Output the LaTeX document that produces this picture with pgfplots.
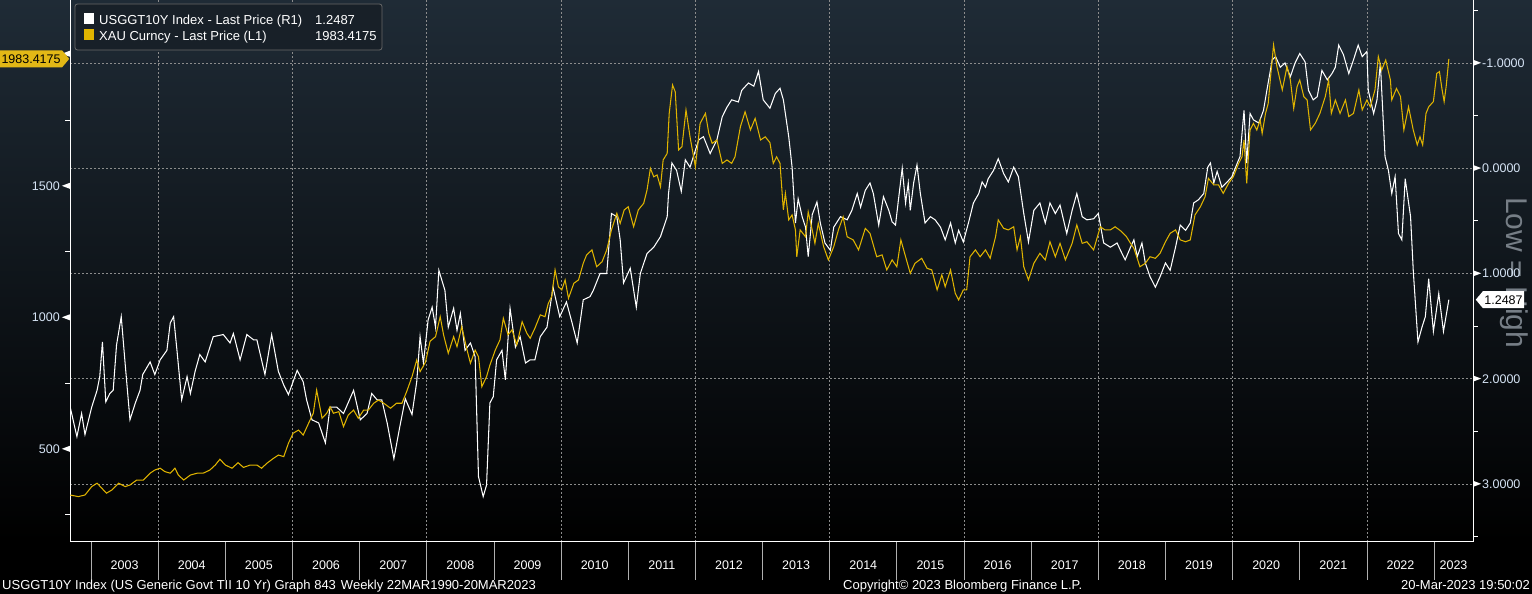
\documentclass[border=0pt]{standalone}
\usepackage{pgfplots}
\pgfplotsset{compat=1.18}
\usepackage{pgfplotstable}
\usepackage{fontspec}
\setmainfont{Liberation Sans}
\setsansfont{Liberation Sans}
\usetikzlibrary{shapes.symbols}
\definecolor{bgtop}{RGB}{31,43,54}
\definecolor{goldc}{RGB}{224,180,0}
\definecolor{goldlab}{RGB}{226,184,22}
\definecolor{gridc}{RGB}{140,140,140}
\definecolor{sepc}{RGB}{175,175,175}
\definecolor{tickc}{RGB}{214,228,245}
\definecolor{legbg}{RGB}{24,32,40}
\definecolor{legbd}{RGB}{105,105,105}
\definecolor{lowc}{RGB}{118,126,134}

\pgfplotstableread{
x y
2002.69 325
2002.81 319
2002.91 325
2003.01 357
2003.09 370
2003.16 351
2003.23 332
2003.31 344
2003.41 370
2003.51 357
2003.58 363
2003.68 382
2003.78 382
2003.88 408
2003.95 420
2004.03 427
2004.10 414
2004.18 408
2004.25 427
2004.30 401
2004.38 382
2004.48 401
2004.58 408
2004.67 408
2004.77 420
2004.85 439
2004.92 461
2005.00 439
2005.10 427
2005.19 448
2005.27 430
2005.37 439
2005.47 439
2005.54 427
2005.62 446
2005.72 465
2005.79 477
2005.87 471
2005.94 522
2006.01 560
2006.09 572
2006.16 553
2006.24 598
2006.31 636
2006.36 724
2006.44 617
2006.51 636
2006.56 661
2006.61 636
2006.69 642
2006.76 585
2006.83 629
2006.91 648
2006.98 617
2007.06 648
2007.13 648
2007.21 674
2007.28 686
2007.36 674
2007.46 655
2007.55 674
2007.63 674
2007.70 718
2007.78 775
2007.85 838
2007.90 794
2007.98 830
2008.05 910
2008.13 927
2008.20 1003
2008.25 934
2008.32 864
2008.40 927
2008.45 889
2008.52 965
2008.60 876
2008.65 826
2008.72 876
2008.77 851
2008.82 737
2008.89 775
2008.94 819
2009.02 876
2009.09 915
2009.14 997
2009.21 934
2009.27 953
2009.34 896
2009.42 984
2009.49 940
2009.54 921
2009.61 959
2009.69 1010
2009.76 1003
2009.81 1054
2009.86 1079
2009.91 1181
2009.96 1117
2010.01 1105
2010.06 1143
2010.11 1073
2010.19 1130
2010.26 1143
2010.33 1206
2010.38 1238
2010.46 1257
2010.53 1193
2010.61 1212
2010.68 1257
2010.75 1333
2010.83 1396
2010.88 1358
2010.94 1409
2011.00 1421
2011.08 1345
2011.15 1409
2011.23 1434
2011.28 1485
2011.33 1567
2011.38 1535
2011.43 1542
2011.48 1497
2011.52 1599
2011.58 1624
2011.61 1776
2011.66 1884
2011.70 1858
2011.75 1637
2011.80 1649
2011.86 1789
2011.92 1687
2012.00 1573
2012.07 1738
2012.15 1776
2012.20 1700
2012.25 1662
2012.32 1675
2012.40 1586
2012.47 1599
2012.54 1586
2012.59 1611
2012.67 1725
2012.74 1782
2012.82 1713
2012.89 1757
2012.97 1675
2013.04 1687
2013.11 1665
2013.16 1586
2013.21 1611
2013.26 1586
2013.31 1409
2013.34 1472
2013.39 1371
2013.44 1390
2013.49 1333
2013.51 1231
2013.56 1333
2013.64 1307
2013.68 1402
2013.74 1333
2013.78 1282
2013.83 1358
2013.91 1269
2013.98 1219
2014.06 1269
2014.13 1333
2014.20 1383
2014.26 1307
2014.35 1295
2014.43 1257
2014.53 1339
2014.60 1320
2014.70 1231
2014.78 1238
2014.85 1181
2014.93 1219
2015.00 1193
2015.06 1295
2015.13 1231
2015.20 1168
2015.27 1206
2015.37 1225
2015.45 1187
2015.52 1181
2015.60 1105
2015.67 1162
2015.72 1117
2015.80 1181
2015.87 1092
2015.92 1067
2015.99 1105
2016.04 1105
2016.09 1231
2016.17 1257
2016.24 1231
2016.32 1257
2016.39 1225
2016.47 1307
2016.51 1371
2016.59 1339
2016.66 1333
2016.74 1345
2016.79 1257
2016.84 1307
2016.89 1193
2016.96 1143
2017.04 1206
2017.13 1244
2017.21 1219
2017.28 1288
2017.36 1231
2017.43 1282
2017.51 1219
2017.61 1282
2017.68 1352
2017.76 1282
2017.83 1288
2017.93 1257
2018.03 1345
2018.10 1333
2018.18 1333
2018.25 1345
2018.33 1330
2018.42 1307
2018.48 1282
2018.53 1263
2018.62 1193
2018.70 1206
2018.77 1231
2018.85 1225
2018.92 1244
2019.00 1288
2019.07 1320
2019.15 1333
2019.22 1295
2019.30 1288
2019.37 1295
2019.44 1390
2019.52 1421
2019.59 1459
2019.64 1529
2019.72 1504
2019.79 1504
2019.86 1472
2019.94 1510
2020.01 1535
2020.09 1586
2020.14 1611
2020.17 1675
2020.21 1510
2020.26 1713
2020.31 1738
2020.36 1713
2020.41 1751
2020.44 1700
2020.49 1776
2020.53 1814
2020.57 1928
2020.61 2036
2020.66 1954
2020.74 1865
2020.81 1954
2020.86 1903
2020.91 1795
2020.96 1878
2021.00 1903
2021.06 1840
2021.11 1827
2021.16 1713
2021.23 1738
2021.30 1776
2021.38 1840
2021.43 1903
2021.47 1776
2021.53 1827
2021.60 1776
2021.68 1827
2021.73 1764
2021.80 1776
2021.88 1865
2021.93 1789
2022.00 1827
2022.05 1801
2022.12 1865
2022.17 1992
2022.22 1941
2022.28 1979
2022.35 1903
2022.37 1827
2022.44 1871
2022.50 1840
2022.55 1713
2022.62 1801
2022.69 1713
2022.75 1656
2022.79 1687
2022.83 1656
2022.88 1776
2022.92 1801
2022.99 1821
2023.04 1928
2023.08 1935
2023.12 1865
2023.15 1821
2023.18 1878
2023.22 1983.4175
}\golddata

\pgfplotstableread{
x y
2002.69 2.27
2002.79 2.55
2002.86 2.33
2002.91 2.53
2003.01 2.27
2003.09 2.11
2003.13 1.98
2003.17 1.65
2003.22 2.22
2003.28 2.14
2003.33 2.11
2003.38 1.68
2003.45 1.41
2003.51 1.87
2003.58 2.39
2003.66 2.23
2003.73 2.11
2003.77 1.96
2003.88 1.84
2003.95 1.96
2004.03 1.82
2004.13 1.73
2004.18 1.47
2004.23 1.41
2004.28 1.73
2004.35 2.20
2004.43 1.98
2004.48 2.14
2004.55 1.93
2004.62 1.77
2004.70 1.84
2004.77 1.70
2004.82 1.60
2004.97 1.58
2005.07 1.66
2005.12 1.57
2005.22 1.82
2005.32 1.58
2005.42 1.63
2005.47 1.63
2005.59 1.96
2005.69 1.58
2005.79 1.93
2005.87 2.06
2005.94 2.15
2006.07 1.92
2006.16 2.03
2006.21 2.20
2006.29 2.39
2006.39 2.42
2006.49 2.61
2006.56 2.27
2006.66 2.27
2006.76 2.33
2006.91 2.11
2007.01 2.39
2007.11 2.33
2007.18 2.14
2007.26 2.20
2007.33 2.20
2007.41 2.42
2007.51 2.76
2007.60 2.45
2007.68 2.19
2007.78 2.34
2007.85 2.03
2007.90 1.60
2007.95 1.85
2008.02 1.44
2008.08 1.32
2008.13 1.51
2008.18 0.97
2008.27 1.16
2008.32 1.51
2008.40 1.33
2008.45 1.54
2008.50 1.38
2008.57 1.73
2008.65 1.66
2008.72 1.79
2008.77 2.93
2008.84 3.12
2008.89 3.01
2008.94 2.23
2008.99 2.17
2009.04 1.82
2009.12 1.73
2009.17 2.01
2009.24 1.33
2009.32 1.70
2009.39 1.60
2009.47 1.85
2009.54 1.82
2009.61 1.82
2009.69 1.60
2009.79 1.51
2009.88 1.13
2009.98 1.41
2010.08 1.27
2010.16 1.46
2010.24 1.66
2010.33 1.25
2010.43 1.22
2010.48 1.16
2010.58 1.00
2010.68 1.00
2010.75 0.43
2010.83 0.46
2010.88 0.68
2010.93 1.09
2011.03 0.95
2011.12 1.32
2011.18 1.00
2011.28 0.81
2011.38 0.75
2011.48 0.65
2011.58 0.46
2011.60 0.24
2011.65 -0.05
2011.72 0.02
2011.79 0.22
2011.85 -0.08
2011.92 -0.01
2012.05 -0.27
2012.12 -0.30
2012.22 -0.14
2012.32 -0.27
2012.40 -0.49
2012.47 -0.58
2012.54 -0.65
2012.64 -0.63
2012.69 -0.74
2012.79 -0.81
2012.87 -0.78
2012.94 -0.92
2013.01 -0.65
2013.11 -0.57
2013.19 -0.71
2013.26 -0.76
2013.31 -0.65
2013.39 -0.30
2013.44 -0.01
2013.49 0.52
2013.53 0.29
2013.59 0.46
2013.64 0.56
2013.68 0.84
2013.74 0.44
2013.81 0.32
2013.86 0.52
2013.93 0.71
2014.01 0.78
2014.06 0.56
2014.16 0.46
2014.26 0.49
2014.33 0.40
2014.41 0.24
2014.46 0.37
2014.53 0.21
2014.60 0.14
2014.65 0.24
2014.73 0.54
2014.80 0.27
2014.88 0.40
2014.93 0.51
2014.98 0.54
2015.02 0.32
2015.08 0.00
2015.13 0.33
2015.17 0.14
2015.20 0.40
2015.25 0.14
2015.30 -0.03
2015.35 0.24
2015.42 0.52
2015.50 0.46
2015.57 0.49
2015.65 0.56
2015.72 0.68
2015.80 0.52
2015.87 0.71
2015.92 0.59
2015.99 0.70
2016.07 0.51
2016.14 0.33
2016.22 0.24
2016.27 0.13
2016.32 0.18
2016.36 0.10
2016.44 0.02
2016.51 -0.09
2016.59 0.05
2016.66 0.13
2016.74 -0.01
2016.81 0.08
2016.89 0.43
2016.96 0.70
2017.04 0.40
2017.13 0.33
2017.21 0.52
2017.28 0.33
2017.36 0.43
2017.43 0.35
2017.53 0.62
2017.61 0.40
2017.68 0.24
2017.76 0.46
2017.83 0.49
2017.93 0.48
2018.00 0.43
2018.08 0.71
2018.18 0.75
2018.28 0.71
2018.33 0.78
2018.40 0.87
2018.48 0.75
2018.53 0.68
2018.58 0.84
2018.65 0.71
2018.70 0.90
2018.77 1.03
2018.85 1.13
2018.92 1.03
2019.00 0.90
2019.07 0.97
2019.15 0.75
2019.22 0.54
2019.30 0.59
2019.37 0.52
2019.42 0.33
2019.49 0.30
2019.57 0.24
2019.63 -0.01
2019.67 -0.05
2019.72 0.14
2019.77 0.03
2019.84 0.18
2019.92 0.13
2019.99 0.08
2020.07 -0.05
2020.11 -0.11
2020.17 -0.55
2020.21 -0.05
2020.26 -0.52
2020.31 -0.46
2020.39 -0.43
2020.46 -0.55
2020.51 -0.74
2020.59 -1.03
2020.64 -1.06
2020.71 -0.96
2020.78 -1.00
2020.86 -0.87
2020.93 -1.00
2021.00 -1.09
2021.08 -1.01
2021.13 -0.74
2021.20 -0.65
2021.26 -0.68
2021.33 -0.93
2021.41 -0.84
2021.48 -0.90
2021.53 -0.96
2021.58 -1.17
2021.65 -1.08
2021.73 -0.90
2021.80 -1.03
2021.87 -1.17
2021.93 -1.06
2022.00 -1.11
2022.02 -0.74
2022.10 -0.52
2022.15 -0.65
2022.20 -1.00
2022.27 -0.11
2022.32 0.02
2022.37 0.24
2022.42 0.08
2022.47 0.62
2022.52 0.68
2022.57 0.10
2022.65 0.46
2022.69 0.97
2022.76 1.65
2022.82 1.51
2022.87 1.41
2022.92 1.05
2022.99 1.55
2023.07 1.19
2023.14 1.55
2023.22 1.2487
}\ryield

\newcommand{\ltri}{\tikz[baseline={(0pt,-4.5pt)}]\fill[white] (0pt,0pt)--(8pt,3pt)--(8pt,-3pt)--cycle;}
\newcommand{\rtri}{\tikz[baseline={(0pt,-4.5pt)}]\fill[white] (8pt,0pt)--(0pt,3pt)--(0pt,-3pt)--cycle;}

\pgfplotsset{
  geom/.style={at={(70pt,52pt)}, anchor=south west, scale only axis,
    width=1403pt, height=542pt, xmin=2002.687, xmax=2023.58},
  every tick label/.append style={font=\fontsize{12.5}{14}\selectfont},
}

\begin{document}
\begin{tikzpicture}
\fill[black] (0pt,0pt) rectangle (1532pt,594pt);
\shade[top color=bgtop, bottom color=black] (0pt,52pt) rectangle (1532pt,594pt);

\node[rotate=-90, anchor=base west, inner sep=0pt, text=lowc,
      font=\fontsize{30}{30}\selectfont] at (1506pt,397pt) {Low = High};

% x axis, separators, vertical grid
\begin{axis}[geom, ymin=0, ymax=1,
  hide y axis, axis x line*=bottom,
  axis line style={white, line width=1pt},
  xtick={2004,2006,2008,2010,2012,2014,2016,2018,2020,2022},
  minor xtick={2003,2005,2007,2009,2011,2013,2015,2017,2019,2021,2023},
  xticklabels={},
  xmajorgrids,
  major grid style={gridc, dash pattern=on 2pt off 2pt, line width=0.8pt},
  tick align=outside, major tick length=38pt, minor tick length=38pt,
  every tick/.style={sepc, line width=0.8pt},
  extra x ticks={2003.5,2004.5,2005.5,2006.5,2007.5,2008.5,2009.5,2010.5,2011.5,2012.5,2013.5,2014.5,2015.5,2016.5,2017.5,2018.5,2019.5,2020.5,2021.5,2022.5,2023.29},
  extra x tick labels={2003,2004,2005,2006,2007,2008,2009,2010,2011,2012,2013,2014,2015,2016,2017,2018,2019,2020,2021,2022,2023},
  extra x tick style={grid=none, major tick length=0pt, tick style={draw=none},
    tick label style={anchor=base, yshift=-28pt, text=white, inner sep=0pt}},
]
\end{axis}

% right axis: real yield (inverted)
\begin{axis}[geom, ymin=-1.5986, ymax=3.551, y dir=reverse,
  hide x axis, axis y line*=right, clip mode=individual,
  axis line style={white, line width=1pt},
  ytick={-1,0,1,2,3},
  yticklabels={{\rtri\hspace{1pt}-1.0000},{\rtri\hspace{1pt}0.0000},{\rtri\hspace{1pt}1.0000},{\rtri\hspace{1pt}2.0000},{\rtri\hspace{1pt}3.0000}},
  minor ytick={-1.5,-0.5,0.5,1.5,2.5,3.5},
  ymajorgrids,
  major grid style={gridc, dash pattern=on 2pt off 2pt, line width=0.8pt},
  tick align=outside, major tick length=0pt, minor tick length=5pt,
  minor tick style={white, line width=0.8pt},
  yticklabel style={anchor=west, inner sep=0pt, xshift=0pt, text=tickc},
]
\addplot[white, line width=1.05pt] table[x=x, y=y] {\ryield};
\node[signal, signal to=west, signal pointer angle=100, fill=white, text=black,
      inner xsep=1.5pt, inner ysep=4pt, text height=9pt, text depth=0pt,
      anchor=west, font=\fontsize{12.5}{14}\selectfont, xshift=2.5pt]
      at (axis cs:2023.58,1.2487) {1.2487};
\end{axis}

% left axis: gold
\begin{axis}[geom, ymin=146.4, ymax=2207.2,
  hide x axis, axis y line*=left, clip mode=individual,
  axis line style={white, line width=1pt},
  ytick={500,1000,1500,2000},
  yticklabels={{500\hspace{2pt}\ltri},{1000\hspace{2pt}\ltri},{1500\hspace{2pt}\ltri},{\ltri}},
  minor ytick={250,750,1250,1750},
  tick align=outside, major tick length=0pt, minor tick length=5pt,
  minor tick style={white, line width=0.8pt},
  yticklabel style={anchor=east, inner sep=0pt, xshift=0pt, text=tickc},
]
\addplot[goldc, line width=1.05pt] table[x=x, y=y] {\golddata};
\node[signal, signal to=east, signal pointer angle=100, fill=goldlab, text=black,
      inner xsep=1.5pt, inner ysep=4pt, text height=9pt, text depth=0pt,
      anchor=east, font=\fontsize{12.5}{14}\selectfont, xshift=-0.5pt]
      at (axis cs:2002.687,1983.4175) {1983.4175};
\end{axis}

% legend
\draw[legbd, fill=legbg, rounded corners=2.5pt, line width=0.8pt] (75pt,544pt) rectangle (382pt,590pt);
\fill[white] (83.5pt,569.5pt) rectangle (94pt,580.5pt);
\fill[goldc] (83.5pt,553.5pt) rectangle (94pt,564.5pt);
\begin{scope}[every node/.style={anchor=base west, inner sep=0pt, text=white, font=\fontsize{13}{15}\selectfont}]
\node at (99pt,569.5pt) {USGGT10Y Index - Last Price (R1)};
\node at (315pt,569.5pt) {1.2487};
\node at (99pt,553.5pt) {XAU Curncy - Last Price (L1)};
\node at (315pt,553.5pt) {1983.4175};
% footer
\node at (2pt,4.5pt) {USGGT10Y Index (US Generic Govt TII 10 Yr) Graph 843\hspace{5pt}Weekly 22MAR1990-20MAR2023};
\node at (843pt,4.5pt) {Copyright© 2023 Bloomberg Finance L.P.};
\end{scope}
\node[anchor=base east, inner sep=0pt, text=white, font=\fontsize{13}{15}\selectfont] at (1530pt,4.5pt) {20-Mar-2023 19:50:02};

\pgfresetboundingbox
\path (0pt,0pt) rectangle (1532pt,594pt);
\end{tikzpicture}
\end{document}
